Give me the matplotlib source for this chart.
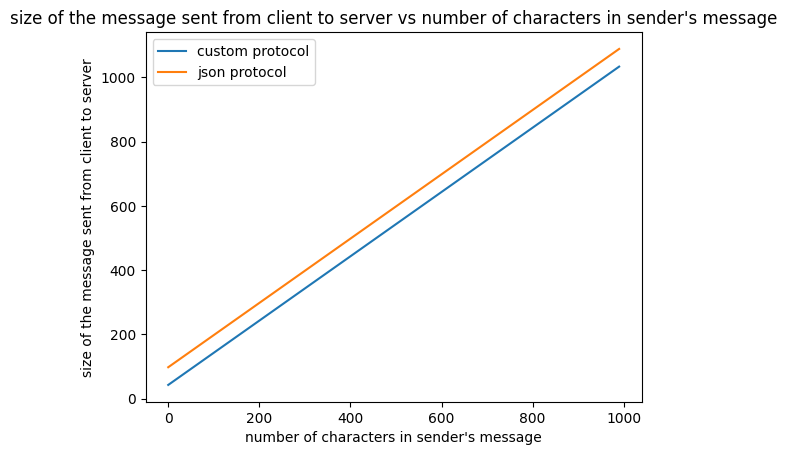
import matplotlib
matplotlib.use('Agg')
import matplotlib.pyplot as plt

# number of characters in the message (first / last sample)
n_chars = [0, 990]
custom_size = [43, 1033]
json_size = [98, 1088]

fig, ax = plt.subplots(figsize=(6.4, 4.8), dpi=100)
ax.plot(n_chars, custom_size, label='custom protocol')
ax.plot(n_chars, json_size, label='json protocol')
ax.set_xlabel("number of characters in sender's message")
ax.set_ylabel('size of the message sent from client to server')
ax.set_title("size of the message sent from client to server vs number of characters in sender's message")
ax.legend()
plt.savefig('out.png', dpi=100, bbox_inches='tight')
plt.close()
